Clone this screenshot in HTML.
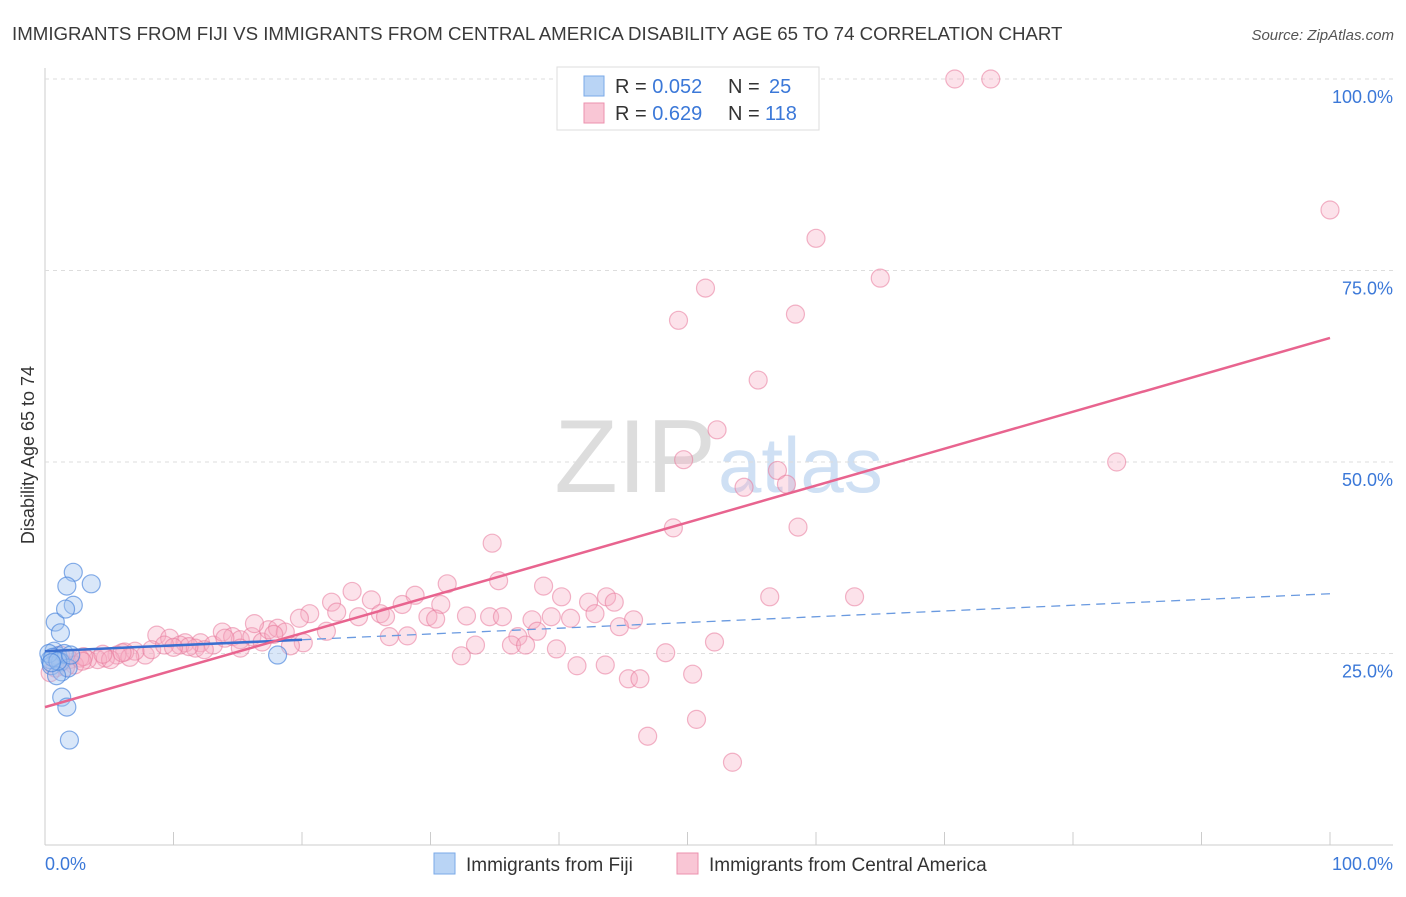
<!DOCTYPE html>
<html><head><meta charset="utf-8"><style>
body{margin:0;background:#fff;font-family:"Liberation Sans",sans-serif;}
svg text{font-family:"Liberation Sans",sans-serif;}
</style></head><body>
<svg width="1406" height="892" id="c">
<text x="12" y="40" font-size="18.7" fill="#3a3a3a">IMMIGRANTS FROM FIJI VS IMMIGRANTS FROM CENTRAL AMERICA DISABILITY AGE 65 TO 74 CORRELATION CHART</text>
<text x="1394" y="40" font-size="15" fill="#555" text-anchor="end" font-style="italic">Source: ZipAtlas.com</text>
<text x="34" y="455" font-size="18" fill="#333" text-anchor="middle" transform="rotate(-90 34 455)">Disability Age 65 to 74</text>
<text x="716" y="492" font-size="104" fill="#ddd" text-anchor="end" font-family="Liberation Serif">ZIP</text>
<text x="718" y="492" font-size="78" fill="#cfe0f4">atlas</text>
<g id="grid"></g><g id="pts"></g><g id="lines"></g>
<g>
<rect x="557" y="67" width="262" height="63" fill="#fff" stroke="#ddd"/>
<rect x="584" y="76" width="20" height="20" fill="#b9d4f5" stroke="#7aaae8"/>
<rect x="584" y="103" width="20" height="20" fill="#f9c6d5" stroke="#ec91ae"/>
<text x="615" y="93" font-size="20" fill="#333">R = <tspan fill="#3b78d8">0.052</tspan></text>
<text x="728" y="93" font-size="20" fill="#333">N = <tspan x="769" fill="#3b78d8">25</tspan></text>
<text x="615" y="120" font-size="20" fill="#333">R = <tspan fill="#3b78d8">0.629</tspan></text>
<text x="728" y="120" font-size="20" fill="#333">N = <tspan x="765" fill="#3b78d8">118</tspan></text>
</g>
<g>
<rect x="434" y="853" width="21" height="21" fill="#b9d4f5" stroke="#7aaae8"/>
<text x="466" y="871" font-size="19" fill="#333">Immigrants from Fiji</text>
<rect x="677" y="853" width="21" height="21" fill="#f9c6d5" stroke="#ec91ae"/>
<text x="709" y="871" font-size="19" fill="#333">Immigrants from Central America</text>
</g>
<text x="45" y="870" font-size="18" fill="#3b78d8">0.0%</text>
<text x="1393" y="870" font-size="18" fill="#3b78d8" text-anchor="end">100.0%</text>
</svg>
<script>
const yTicks=[25,50,75,100];
const yTickLabels=["25.0%","50.0%","75.0%","100.0%"];
const fijiX=[0.7,0.4,1,1.5,0.5,1.2,0.8,2.2,1.7,3.6,2.2,1.6,1.2,1.3,1.3,1.7,1.9,18.1,1.8,0.9,0.3,0.6,1.0,2.0,0.5];
const fijiY=[25.3,24.2,24.7,25,23.4,23.9,29.1,35.6,33.8,34.1,31.3,30.8,27.7,22.6,19.3,18,13.7,24.8,23.1,22.1,25.0,24.5,24.0,24.8,23.8];
const caX=[70.8,73.6,100,60,65,51.4,58.4,49.3,55.5,52.3,49.7,83.4,57,54.4,57.7,48.9,58.6,34.8,35.3,31.3,38.8,23.9,56.4,63,40.2,43.7,42.3,44.3,28.8,25.4,22.3,27.8,30.8,20.6,19.8,22.7,24.4,26.1,26.5,29.8,30.4,32.8,34.6,35.6,37.9,39.4,40.9,42.8,45.8,44.7,38.3,21.9,26.8,28.2,36.8,36.3,37.4,33.5,39.8,32.4,48.3,52.1,41.4,43.6,45.4,46.3,50.4,50.7,46.9,53.5,20.1,8.7,9.7,10.9,12.1,13.1,13.8,14.6,15.2,16.1,16.9,17.4,18.1,18.7,16.3,19.1,7.8,8.3,7,6.2,5.6,4.7,4.1,3.3,2.7,1.9,1.3,0.8,1.2,2.3,0.4,5.1,6.6,10.5,11.7,12.4,15.2,9.3,3.0,4.5,6.0,1.6,2.9,0.9,14.0,17.8,11.2,10.0];
const caY=[100,100,82.9,79.2,74,72.7,69.3,68.5,60.7,54.2,50.3,50,48.9,46.7,47.1,41.4,41.5,39.4,34.5,34.1,33.8,33.1,32.4,32.4,32.4,32.4,31.7,31.7,32.6,32,31.7,31.4,31.4,30.2,29.6,30.4,29.8,30.2,29.8,29.8,29.5,29.9,29.8,29.8,29.4,29.8,29.6,30.2,29.4,28.5,27.9,27.9,27.2,27.3,27.2,26.1,26.1,26.1,25.6,24.7,25.1,26.5,23.4,23.5,21.7,21.7,22.3,16.4,14.2,10.8,26.4,27.4,27,26.4,26.4,26.1,27.8,27.2,26.8,27.2,26.5,28.1,28.3,27.8,28.9,26,24.8,25.5,25.3,25.2,24.8,24.4,24.2,24.2,24.4,24.2,23.9,23.1,24.8,23.5,22.5,24.2,24.5,26.1,25.7,25.5,25.7,26.1,24.6,24.9,25.1,23.2,24.0,24.3,27.0,27.5,25.9,25.8];
const caTrend=[18,66.2];
const fijiTrend=[25.3,32.8];
const X=v=>45+v*12.85, Y=v=>845-v*7.66;
const NS="http://www.w3.org/2000/svg";
function mk(t,a,p){const e=document.createElementNS(NS,t);for(const k in a)e.setAttribute(k,a[k]);p.appendChild(e);return e;}
const g=document.getElementById('grid');
const ax=mk('line',{x1:45,y1:68,x2:45,y2:845,stroke:'#ccc'},g);


const bx=mk('line',{x1:45,y1:845,x2:1393,y2:845,stroke:'#ccc'},g);


for(let i=0;i<=10;i++){const t=mk('line',{x1:X(i*10),x2:X(i*10),y1:832,y2:845,stroke:'#ccc'},g);

}
yTicks.forEach((v,i)=>{const l=mk('line',{x1:45,x2:1393,y1:Y(v),y2:Y(v),stroke:'#ddd','stroke-dasharray':'4,4'},g);


const t=mk('text',{x:1393,y:Y(v)+24,'font-size':18,fill:'#3b78d8','text-anchor':'end'},g);t.textContent=yTickLabels[i];

});
const p=document.getElementById('pts');
caX.forEach((x,i)=>{const c=mk('circle',{cx:X(x),cy:Y(caY[i]),r:9,fill:'rgba(246,172,195,0.35)',stroke:'rgba(232,120,155,0.55)','stroke-width':1.2},p);

});
fijiX.forEach((x,i)=>{const c=mk('circle',{cx:X(x),cy:Y(fijiY[i]),r:9,fill:'rgba(160,196,240,0.4)',stroke:'rgba(70,130,220,0.65)','stroke-width':1.2},p);

});
const L=document.getElementById('lines');
const fy=x=>fijiTrend[0]+(fijiTrend[1]-fijiTrend[0])*x/100;
const l1=mk('line',{x1:X(20),y1:Y(fy(20)),x2:X(100),y2:Y(fy(100)),stroke:'#6a9ae0','stroke-width':1.3,'stroke-dasharray':'9,6'},L);


const l2=mk('line',{x1:X(0),y1:Y(fy(0)),x2:X(20),y2:Y(fy(20)),stroke:'#3a6fd0','stroke-width':2.5},L);


const l3=mk('line',{x1:X(0),y1:Y(caTrend[0]),x2:X(100),y2:Y(caTrend[1]),stroke:'#e8648f','stroke-width':2.5},L);


</script>
</body></html>
